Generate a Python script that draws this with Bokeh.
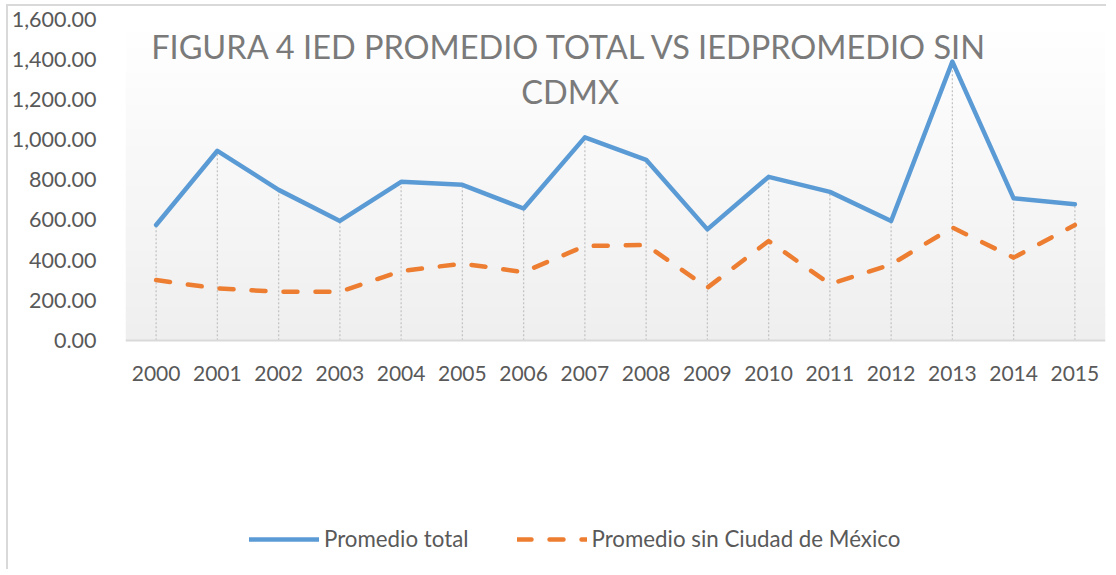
from bokeh.plotting import figure
from bokeh.models import (FactorRange, Range1d, NumeralTickFormatter, FixedTicker,
                          Legend, LegendItem, Label, BoxAnnotation)
from bokeh.embed import file_html
from bokeh.resources import INLINE

# ---------------- data ----------------
years = ["2000", "2001", "2002", "2003", "2004", "2005", "2006", "2007",
         "2008", "2009", "2010", "2011", "2012", "2013", "2014", "2015"]
promedio_total = [575, 945, 750, 595, 790, 775, 657, 1012,
                  900, 553, 815, 740, 595, 1390, 708, 678]
promedio_sin_cdmx = [300, 258, 242, 242, 345, 382, 340, 470,
                     475, 262, 495, 280, 378, 562, 412, 575]
y_ticks = [0, 200, 400, 600, 800, 1000, 1200, 1400, 1600]
series_names = ["Promedio total", "Promedio sin Ciudad de México"]
title_lines = ["FIGURA 4 IED PROMEDIO TOTAL VS IEDPROMEDIO SIN", "CDMX"]

FONT = "Lato"
TXT = "#595959"
Y_TOP = 1620
Y_BOTTOM = -1124

p = figure(width=1100, height=565, output_backend="svg", toolbar_location=None,
           x_range=FactorRange(factors=years, range_padding=0),
           y_range=Range1d(Y_BOTTOM, Y_TOP),
           min_border_left=113, min_border_right=3, min_border_top=9,
           min_border_bottom=6)
p.styles = {"margin-left": "6px", "margin-top": "4px",
            "border-left": "2px solid #d9d9d9", "border-top": "2px solid #d9d9d9"}
p.outline_line_color = None
p.background_fill_color = "white"
p.border_fill_color = "white"
p.xgrid.grid_line_color = None
p.ygrid.grid_line_color = None

# gradient background of plot area (above the category axis)
n = 40
for i in range(n):
    b = Y_TOP * i / n
    t = Y_TOP * (i + 1) / n + 5
    f = i / (n - 1)
    c = int(round(0xEF + (0xFF - 0xEF) * f))
    p.add_layout(BoxAnnotation(bottom=b, top=t, fill_color="#%02x%02x%02x" % (c, c, c),
                               fill_alpha=1, line_color=None, level="underlay"))

# drop lines
p.segment(x0=years, y0=[0] * len(years), x1=years, y1=promedio_total,
          line_color="#c4c4c4", line_width=1.3, line_dash="2 2")

r1 = p.line(years, promedio_total, line_color="#5b9bd5", line_width=4.5,
            line_join="round", line_cap="round")
r2 = p.line(years, promedio_sin_cdmx, line_color="#ed7d31", line_width=4.5,
            line_dash="14 18", line_join="round", line_cap="round")

# axes
p.yaxis.ticker = FixedTicker(ticks=y_ticks)
p.yaxis.formatter = NumeralTickFormatter(format="0,0.00")
p.yaxis.axis_line_color = None
p.yaxis.major_tick_line_color = None
p.yaxis.minor_tick_line_color = None
p.yaxis.major_label_standoff = 23
p.yaxis.major_label_text_font = FONT
p.yaxis.major_label_text_font_size = "21.5px"
p.yaxis.major_label_text_color = TXT

p.xaxis.fixed_location = 0
p.xaxis.axis_line_color = "#d9d9d9"
p.xaxis.axis_line_width = 2
p.xaxis.major_tick_line_color = None
p.xaxis.minor_tick_line_color = None
p.xaxis.major_label_standoff = 20
p.xaxis.major_label_text_font = FONT
p.xaxis.major_label_text_font_size = "21px"
p.xaxis.major_label_text_color = TXT

# title
for line, yy in zip(title_lines, [1466, 1240]):
    p.add_layout(Label(x=7.26, y=yy, text=line, text_align="center",
                       text_baseline="middle", text_font=FONT,
                       text_font_size="32.5px", text_color="#7a7a7a"))

legend = Legend(items=[LegendItem(label=series_names[0], renderers=[r1]),
                       LegendItem(label=series_names[1], renderers=[r2])],
                orientation="horizontal", location=(124, 13),
                glyph_width=70, glyph_height=24, label_height=24,
                label_standoff=5, spacing=48, padding=0, margin=0,
                border_line_color=None, background_fill_alpha=0,
                label_text_font=FONT, label_text_font_size="22.3px",
                label_text_color=TXT)
p.add_layout(legend, "center")

open("out.html", "w").write(file_html(p, INLINE))
